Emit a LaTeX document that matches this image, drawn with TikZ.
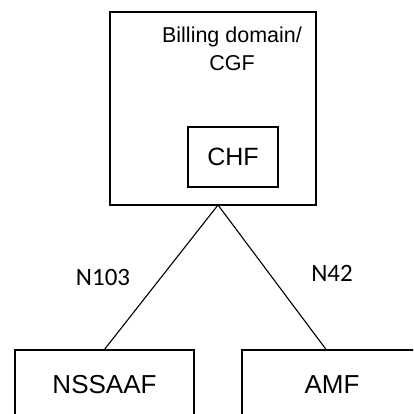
\documentclass[tikz,border=0pt]{standalone}
\usepackage{fontspec}
\setmainfont{Liberation Sans}
\newfontfamily\calibri{Carlito}
\tikzset{
  box/.style={draw, line width=1.2pt, inner sep=0pt},
  link/.style={line width=1.1pt},
  iface/.style={font=\calibri\fontsize{25}{30}\selectfont}
}
\begin{document}
\begin{tikzpicture}[x=1pt, y=-1pt]
            % рамка
            \useasboundingbox ( 0, 0 ) rectangle ( 413, 414 );
            \clip ( 0, 0 ) rectangle ( 413, 414 );

            % billing domain
            \node [box, minimum width=206pt, minimum height=193pt] (cgf) at ( 213, 108.5 ) {};
            \node [align=center, font=\fontsize{21.5}{28}\selectfont] (cgftext) at ( 232, 49 ) {Billing domain/\\CGF};
            \node [box, minimum width=90pt, minimum height=60pt, font=\fontsize{25}{30}\selectfont] (chf) at ( 233, 157 ) {CHF};

            % нижние блоки
            \node [box, minimum width=179pt, minimum height=70pt, font=\fontsize{26}{30}\selectfont] (nssaaf) at ( 104.5, 385 ) {NSSAAF};
            \node [box, minimum width=180pt, minimum height=70pt, font=\fontsize{26}{30}\selectfont] (amf) at ( 332, 385 ) {AMF};

            % линии
            \coordinate (apex) at ( 218, 205 );
            \draw [link] (apex) -- (nssaaf.north);
            \draw [link] (apex) -- ([xshift=-6pt]amf.north);

            % интерфейсы
            \node [iface] (n103) at ( 103, 277 ) {N103};
            \node [iface] (n42) at ( 332, 273 ) {N42};
\end{tikzpicture}
\end{document}
